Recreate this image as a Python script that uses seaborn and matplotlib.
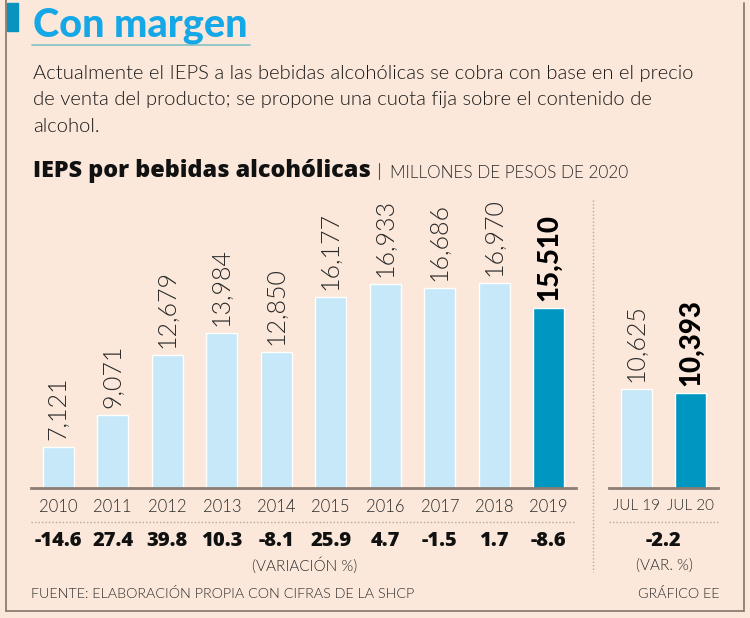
import matplotlib
matplotlib.use("Agg")
import matplotlib.pyplot as plt
import matplotlib.transforms as mtransforms
from matplotlib.lines import Line2D
from matplotlib.patches import Rectangle
import seaborn as sns
import pandas as pd

# ---- data ----
years = ["2010", "2011", "2012", "2013", "2014", "2015", "2016", "2017", "2018", "2019"]
values = [7121, 9071, 12679, 13984, 12850, 16177, 16933, 16686, 16970, 15510]
variation = ["-14.6", "27.4", "39.8", "10.3", "-8.1", "25.9", "4.7", "-1.5", "1.7", "-8.6"]
months = ["JUL 19", "JUL 20"]
month_values = [10625, 10393]
month_variation = "-2.2"

BG = "#FBE8DA"
LIGHT = "#C6E8F8"
DARK = "#0096C2"
BORDER = "#8B7D72"
FONT = "Lato"
BOLDFONT = ["Open Sans", "DejaVu Sans"]
LW = 300  # light weight

sns.set_theme(style="white")
plt.rcParams["font.family"] = [FONT, "DejaVu Sans"]

W, H = 750, 618
fig = plt.figure(figsize=(7.5, 6.18), dpi=100, facecolor=BG)

def fx(x):
    return x / W

def fy(y):
    return 1 - y / H

YMIN, YMAX = 4653, 21993

def make_ax(left, right, cats, vals, hi_idx, ticksize):
    ax = fig.add_axes([fx(left), fy(488), fx(right - left), 288 / H])
    ax.set_facecolor("none")
    df = pd.DataFrame({"cat": cats, "val": vals})
    pal = {c: (DARK if i == hi_idx else LIGHT) for i, c in enumerate(cats)}
    sns.barplot(data=df, x="cat", y="val", hue="cat", palette=pal, width=0.57,
                legend=False, ax=ax, saturation=1)
    ax.set_xlim(-0.5, len(cats) - 0.5)
    ax.set_ylim(YMIN, YMAX)
    ax.set_xlabel("")
    ax.set_ylabel("")
    ax.set_yticks([])
    for s in ["top", "left", "right"]:
        ax.spines[s].set_visible(False)
    ax.spines["bottom"].set_color(BORDER)
    ax.spines["bottom"].set_linewidth(2.0)
    ax.tick_params(axis="x", length=0, pad=8, labelsize=ticksize, labelcolor="#2a2a2a")
    for lab in ax.get_xticklabels():
        lab.set_fontweight(LW)
    for i, v in enumerate(vals):
        bold = i == hi_idx
        ax.annotate(f"{v:,}", xy=(i, v), xytext=(0, 5), textcoords="offset points",
                    rotation=90, ha="center", va="bottom",
                    fontsize=20 if bold else 18,
                    fontweight="black" if bold else LW,
                    color="#000000" if bold else "#2a2a2a")
    return ax

ax1 = make_ax(31, 576, years, values, 9, 12)
ax2 = make_ax(609, 718, months, month_values, 1, 11)

# variation rows
tr1 = mtransforms.blended_transform_factory(ax1.transData, fig.transFigure)
for i, t in enumerate(variation):
    fig.text(i, fy(541), t, transform=tr1, ha="center", va="center",
             fontsize=14.5, fontweight="heavy", family=BOLDFONT, color="#111111")
tr2 = mtransforms.blended_transform_factory(ax2.transData, fig.transFigure)
fig.text(0.5, fy(541), month_variation, transform=tr2, ha="center", va="center",
         fontsize=14.5, fontweight="heavy", family=BOLDFONT, color="#111111")
fig.text(fx(305), fy(566), "(VARIACIÓN %)", ha="center", va="center",
         fontsize=11, fontweight=LW, color="#2a2a2a")
fig.text(fx(664), fy(566), "(VAR. %)", ha="center", va="center",
         fontsize=11, fontweight=LW, color="#2a2a2a")

# dotted separators
dot = dict(color="#B5A89E", linewidth=1.0, linestyle=(0, (1, 1.5)))
fig.add_artist(Line2D([fx(31), fx(576)], [fy(522), fy(522)], **dot))
fig.add_artist(Line2D([fx(609), fx(718)], [fy(522), fy(522)], **dot))
fig.add_artist(Line2D([fx(593), fx(593)], [fy(200), fy(572)], **dot))

# footer
fig.text(fx(31), fy(593), "FUENTE: ELABORACIÓN PROPIA CON CIFRAS DE LA SHCP",
         ha="left", va="center", fontsize=10.3, fontweight=LW, color="#2a2a2a")
fig.text(fx(719), fy(593), "GRÁFICO EE", ha="right", va="center",
         fontsize=10.3, fontweight=LW, color="#2a2a2a")

# header
fig.add_artist(Rectangle((fx(7), fy(31)), fx(11), 28 / H, color="#0A93BE",
                         transform=fig.transFigure))
fig.text(fx(33), fy(37), "Con margen", ha="left", va="baseline",
         fontsize=28.5, fontweight="black", color="#16A8E6")
fig.add_artist(Line2D([fx(32), fx(250)], [fy(45), fy(45)], color="#8CC5C9", linewidth=1.3))

body = ["Actualmente el IEPS a las bebidas alcohólicas se cobra con base en el precio",
        "de venta del producto; se propone una cuota fija sobre el contenido de",
        "alcohol."]
for k, line in enumerate(body):
    fig.text(fx(33), fy(79 + 26.5 * k), line, ha="left", va="baseline",
             fontsize=14.6, fontweight=LW, color="#1a1a1a")

fig.text(fx(33), fy(177), "IEPS por bebidas alcohólicas", ha="left", va="baseline",
         fontsize=16.8, fontweight="heavy", family=BOLDFONT, color="#111111")
fig.add_artist(Line2D([fx(379), fx(379)], [fy(163), fy(179)], color="#555555", linewidth=0.8))
fig.text(fx(390), fy(178), "MILLONES DE PESOS DE 2020", ha="left", va="baseline",
         fontsize=12.3, fontweight=LW, color="#2a2a2a")

# frame
fr = dict(color=BORDER, linewidth=1.3)
fig.add_artist(Line2D([fx(6), fx(6)], [fy(0), fy(611)], **fr))
fig.add_artist(Line2D([fx(6), fx(744)], [fy(611), fy(611)], **fr))
fig.add_artist(Line2D([fx(744), fx(744)], [fy(3), fy(611)], **fr))

fig.savefig("out.png", dpi=100, facecolor=BG)
